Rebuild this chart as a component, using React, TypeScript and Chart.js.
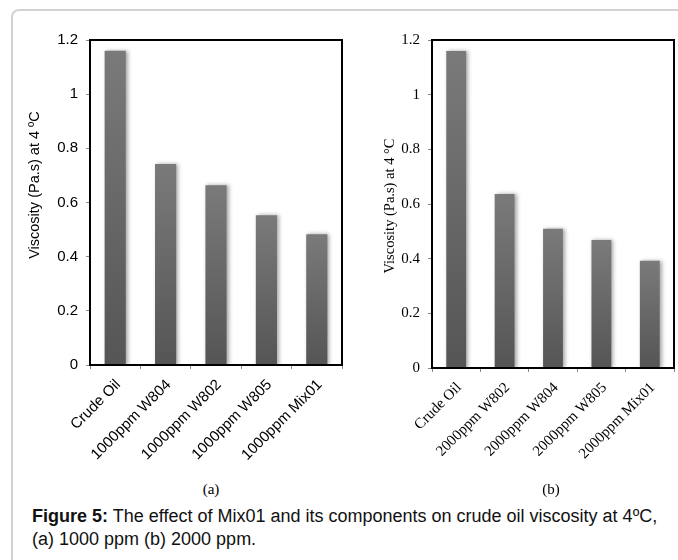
import React, { useEffect, useRef } from "react";
import { Chart, registerables } from "chart.js";

Chart.register(...registerables);

// ---- Data ----
const categoriesA = ["Crude Oil", "1000ppm W804", "1000ppm W802", "1000ppm W805", "1000ppm Mix01"];
const valuesA = [1.16, 0.742, 0.664, 0.553, 0.483];

const categoriesB = ["Crude Oil", "2000ppm W802", "2000ppm W804", "2000ppm W805", "2000ppm Mix01"];
const valuesB = [1.16, 0.637, 0.509, 0.468, 0.392];

const yTickLabels = ["0", "0.2", "0.4", "0.6", "0.8", "1", "1.2"];
const yTitleA = "Viscosity (Pa.s) at 4 ºC";
const yTitleB = "Viscosity (Pa.s) at 4 °C";
const panelLabels = ["(a)", "(b)"];
const captionBold = "Figure 5:";
const captionLine1 = " The effect of Mix01 and its components on crude oil viscosity at 4ºC,";
const captionLine2 = "(a) 1000 ppm (b) 2000 ppm.";

const SANS = '"Liberation Sans", Arial, sans-serif';
const SERIF = '"Liberation Serif", "Times New Roman", serif';

const framePlugin = {
  id: "frame",
  afterDatasetsDraw(chart: any) {
    const { ctx, chartArea: a } = chart;
    ctx.save();
    ctx.strokeStyle = "#000";
    ctx.lineWidth = 2;
    ctx.strokeRect(a.left, a.top, a.right - a.left, a.bottom - a.top);
    ctx.restore();
  },
};

const shadowPlugin = {
  id: "barShadow",
  beforeDatasetsDraw(chart: any) {
    const ctx = chart.ctx;
    ctx.save();
    ctx.shadowColor = "rgba(0,0,0,0.35)";
    ctx.shadowBlur = 4;
    ctx.shadowOffsetX = 2;
    ctx.shadowOffsetY = 0;
  },
  afterDatasetsDraw(chart: any) {
    chart.ctx.restore();
  },
};

const yTitlePlugin = {
  id: "yTitleCustom",
  afterDraw(chart: any, _args: any, opts: any) {
    if (!opts || !opts.text) return;
    const ctx = chart.ctx;
    ctx.save();
    ctx.translate(opts.x, opts.y);
    ctx.rotate(-Math.PI / 2);
    ctx.font = opts.font;
    ctx.fillStyle = "#000";
    ctx.textAlign = "center";
    ctx.textBaseline = "middle";
    ctx.fillText(opts.text, 0, 0);
    ctx.restore();
  },
};

type Props = {
  labels: string[];
  values: number[];
  family: string;
  width: number;
  height: number;
  yWidth: number;
  xHeight: number;
  padTop: number;
  padRight: number;
  title: string;
  titleX: number;
  titleY: number;
  barPct: number;
  left: number;
};

function BarPanel(p: Props) {
  const ref = useRef<HTMLCanvasElement | null>(null);
  useEffect(() => {
    if (!ref.current) return;
    const font = { family: p.family, size: 15 };
    const chart = new Chart(ref.current, {
      type: "bar",
      data: {
        labels: p.labels,
        datasets: [
          {
            data: p.values,
            barPercentage: p.barPct,
            categoryPercentage: 1,
            borderWidth: 0,
            backgroundColor: (c: any) => {
              const ch = c.chart;
              const ys = ch.scales && ch.scales.y;
              if (!ys || c.type !== "data") return "#666";
              const top = ys.getPixelForValue(c.raw);
              const bottom = ys.getPixelForValue(0);
              if (!isFinite(top) || !isFinite(bottom) || top === bottom) return "#666";
              const g = ch.ctx.createLinearGradient(0, top, 0, bottom);
              g.addColorStop(0, "#7a7a7a");
              g.addColorStop(1, "#555555");
              return g;
            },
          },
        ],
      },
      options: {
        animation: false,
        responsive: false,
        maintainAspectRatio: false,
        layout: { padding: { top: p.padTop, right: p.padRight, left: 0, bottom: 0 } },
        plugins: {
          legend: { display: false },
          tooltip: { enabled: false },
          yTitleCustom: { text: p.title, x: p.titleX, y: p.titleY, font: `14.5px ${p.family}` },
        } as any,
        scales: {
          x: {
            grid: { display: true, drawOnChartArea: false, drawTicks: true, tickLength: 4, color: "#888", offset: true },
            border: { display: false },
            ticks: {
              autoSkip: false,
              minRotation: 45,
              maxRotation: 45,
              color: "#000",
              font,
              padding: 7,
              labelOffset: 3,
            },
            afterFit: (s: any) => {
              s.height = p.xHeight;
            },
          },
          y: {
            min: 0,
            max: 1.2,
            grid: { display: true, drawOnChartArea: false, drawTicks: true, tickLength: 4, color: "#888" },
            border: { display: false },
            ticks: {
              stepSize: 0.2,
              color: "#000",
              font,
              padding: 8,
              callback: (_v: any, i: number) => yTickLabels[i],
            },
            afterFit: (s: any) => {
              s.width = p.yWidth;
            },
          },
        },
      },
      plugins: [shadowPlugin, framePlugin, yTitlePlugin],
    });
    return () => chart.destroy();
  }, []);
  return (
    <canvas
      ref={ref}
      width={p.width}
      height={p.height}
      style={{ position: "absolute", left: p.left, top: 0, width: p.width, height: p.height }}
    />
  );
}

export default function App() {
  return (
    <div
      style={{
        position: "fixed",
        left: 0,
        top: 0,
        width: 678,
        height: 560,
        overflow: "hidden",
        background: "#fff",
      }}
    >
      <div
        style={{
          position: "absolute",
          left: 11,
          top: 9,
          width: 800,
          height: 700,
          border: "2px solid #d2d2d2",
          borderRadius: 8,
          boxSizing: "border-box",
        }}
      />
      <BarPanel
        labels={categoriesA}
        values={valuesA}
        family={SANS}
        left={0}
        width={346}
        height={470}
        yWidth={90}
        xHeight={105}
        padTop={40}
        padRight={4}
        title={yTitleA}
        titleX={35}
        titleY={185}
        barPct={0.42}
      />
      <BarPanel
        labels={categoriesB}
        values={valuesB}
        family={SERIF}
        left={340}
        width={338}
        height={470}
        yWidth={92}
        xHeight={102}
        padTop={40}
        padRight={4}
        title={yTitleB}
        titleX={50}
        titleY={206}
        barPct={0.41}
      />
      {panelLabels.map((t, i) => (
        <div
          key={t}
          style={{
            position: "absolute",
            left: i === 0 ? 181 : 521,
            top: 480,
            width: 60,
            textAlign: "center",
            font: `15px ${SERIF}`,
            lineHeight: "18px",
            color: "#000",
          }}
        >
          {t}
        </div>
      ))}
      <div
        style={{
          position: "absolute",
          left: 32,
          top: 505,
          font: `18px ${SANS}`,
          lineHeight: "23px",
          color: "#111",
          whiteSpace: "nowrap",
        }}
      >
        <b>{captionBold}</b>
        {captionLine1}
        <br />
        {captionLine2}
      </div>
    </div>
  );
}
